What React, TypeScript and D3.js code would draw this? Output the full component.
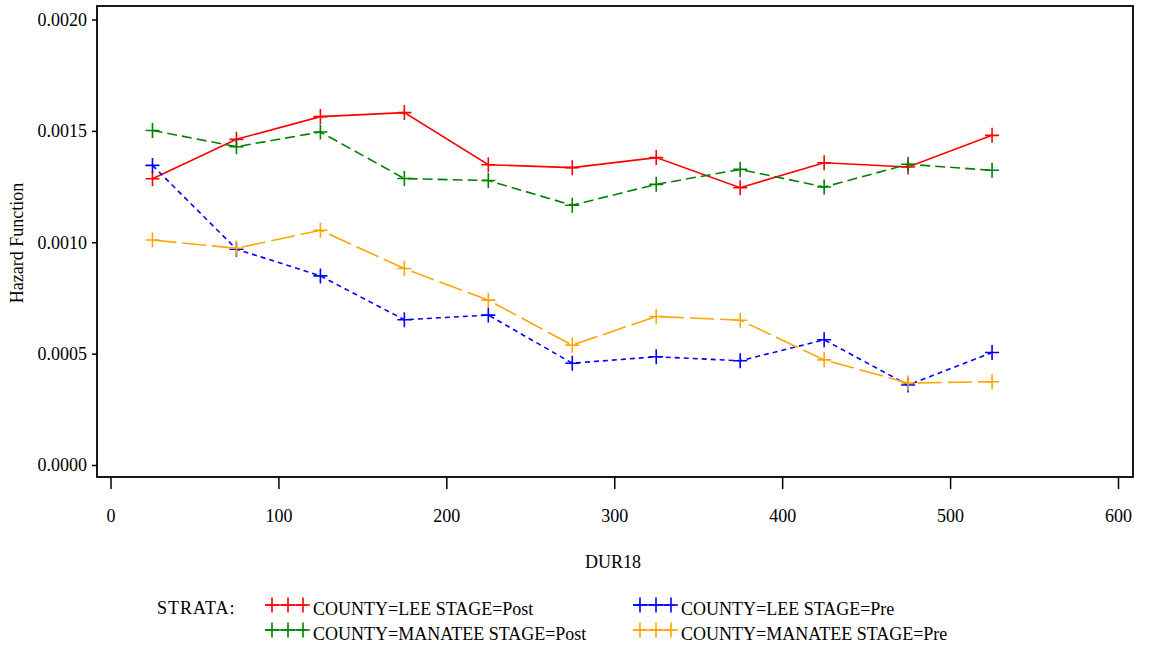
import React, { useRef, useEffect } from "react";
import * as d3 from "d3";

// DUR18 midpoints
const durations = [25, 75, 125, 175, 225, 275, 325, 375, 425, 475, 525];

// hazard estimates per stratum
const leePost = [0.001285, 0.001462, 0.001564, 0.001582, 0.001348, 0.001335, 0.00138, 0.001245, 0.001357, 0.001338, 0.00148];
const manateePost = [0.001502, 0.001429, 0.001495, 0.001286, 0.001277, 0.001166, 0.00126, 0.001327, 0.001248, 0.00135, 0.001323];
const leePre = [0.001345, 0.000969, 0.000849, 0.000652, 0.000673, 0.000457, 0.000486, 0.000468, 0.000562, 0.000359, 0.000505];
const manateePre = [0.00101, 0.000973, 0.001054, 0.000882, 0.00074, 0.000538, 0.000667, 0.00065, 0.000472, 0.000368, 0.000374];

const xTicks = [0, 100, 200, 300, 400, 500, 600];
const yTicks = [0, 0.0005, 0.001, 0.0015, 0.002];

const strata = [
  { label: "COUNTY=LEE STAGE=Post", values: leePost, color: "#ff0000", dash: "none" },
  { label: "COUNTY=MANATEE STAGE=Post", values: manateePost, color: "#008000", dash: "10,5" },
  { label: "COUNTY=LEE STAGE=Pre", values: leePre, color: "#0000ff", dash: "5,4" },
  { label: "COUNTY=MANATEE STAGE=Pre", values: manateePre, color: "#ffa500", dash: "24,6" },
];

const FONT = "Liberation Serif";

const App = () => {
  const svgRef = useRef<SVGSVGElement>(null);

  useEffect(() => {
    const width = 1149;
    const height = 646;
    const frame = { left: 97, top: 6, right: 1133, bottom: 477 };

    const xScale = d3.scaleLinear().domain([0, 600]).range([110.5, 1118]);
    const yScale = d3.scaleLinear().domain([0, 0.002]).range([465, 19.5]);

    const svg = d3
      .select(svgRef.current)
      .attr("width", width)
      .attr("height", height)
      .attr("font-family", FONT)
      .attr("font-size", 18);
    svg.selectAll("*").remove();

    // frame
    svg
      .append("rect")
      .attr("x", frame.left)
      .attr("y", frame.top)
      .attr("width", frame.right - frame.left)
      .attr("height", frame.bottom - frame.top)
      .attr("fill", "none")
      .attr("stroke", "#000")
      .attr("stroke-width", 1.8);

    // x axis
    const xAxis = svg
      .append("g")
      .attr("transform", `translate(0,${frame.bottom})`)
      .call(d3.axisBottom(xScale).tickValues(xTicks).tickFormat(d3.format("d")).tickSize(12).tickPadding(20));
    xAxis.attr("font-family", null).attr("font-size", null);
    xAxis.select(".domain").remove();
    xAxis.selectAll("line").attr("stroke-width", 1.5);
    xAxis.selectAll("text").attr("fill", "#000");

    // y axis
    const yAxis = svg
      .append("g")
      .attr("transform", `translate(${frame.left},0)`)
      .call(d3.axisLeft(yScale).tickValues(yTicks).tickFormat(d3.format(".4f")).tickSize(5).tickPadding(5));
    yAxis.attr("font-family", null).attr("font-size", null);
    yAxis.select(".domain").remove();
    yAxis.selectAll("line").attr("stroke-width", 1.5);
    yAxis.selectAll("text").attr("fill", "#000");

    // axis titles
    svg.append("text").attr("x", 613).attr("y", 568).attr("text-anchor", "middle").text("DUR18");

    svg
      .append("text")
      .attr("transform", "translate(23,243) rotate(-90)")
      .attr("text-anchor", "middle")
      .text("Hazard Function");

    const line = d3
      .line<number>()
      .x((_, i) => xScale(durations[i]))
      .y((d) => yScale(d));

    const plus = (g: any, cx: number, cy: number, color: string) => {
      g.append("path")
        .attr("d", `M${cx - 7},${cy}H${cx + 7}M${cx},${cy - 7.5}V${cy + 7.5}`)
        .attr("stroke", color)
        .attr("stroke-width", 1.6)
        .attr("fill", "none");
    };

    strata.forEach((s) => {
      svg
        .append("path")
        .datum(s.values)
        .attr("fill", "none")
        .attr("stroke", s.color)
        .attr("stroke-width", 1.6)
        .attr("stroke-dasharray", s.dash)
        .attr("d", line);
      const g = svg.append("g");
      s.values.forEach((v, i) => plus(g, xScale(durations[i]), yScale(v), s.color));
    });

    // legend
    svg.append("text").attr("x", 157).attr("y", 614).style("letter-spacing", "1px").text("STRATA:");

    const legend = svg
      .selectAll(".legend")
      .data(strata)
      .enter()
      .append("g")
      .attr("class", "legend")
      .attr("transform", (_, i) => `translate(${i < 2 ? 265 : 633}, ${605 + (i % 2) * 25})`);

    legend
      .append("line")
      .attr("x1", 0)
      .attr("x2", 42)
      .attr("y1", 0)
      .attr("y2", 0)
      .attr("stroke", (d) => d.color)
      .attr("stroke-width", 1.6);

    legend.each(function (d) {
      const g = d3.select(this);
      [7, 23, 38].forEach((cx) => plus(g, cx, 0, d.color));
    });

    legend
      .append("text")
      .attr("x", 48)
      .attr("y", 10)
      .text((d) => d.label);
  }, []);

  return <svg ref={svgRef} style={{ position: "absolute", left: 0, top: 0, background: "#fff" }}></svg>;
};

export default App;
